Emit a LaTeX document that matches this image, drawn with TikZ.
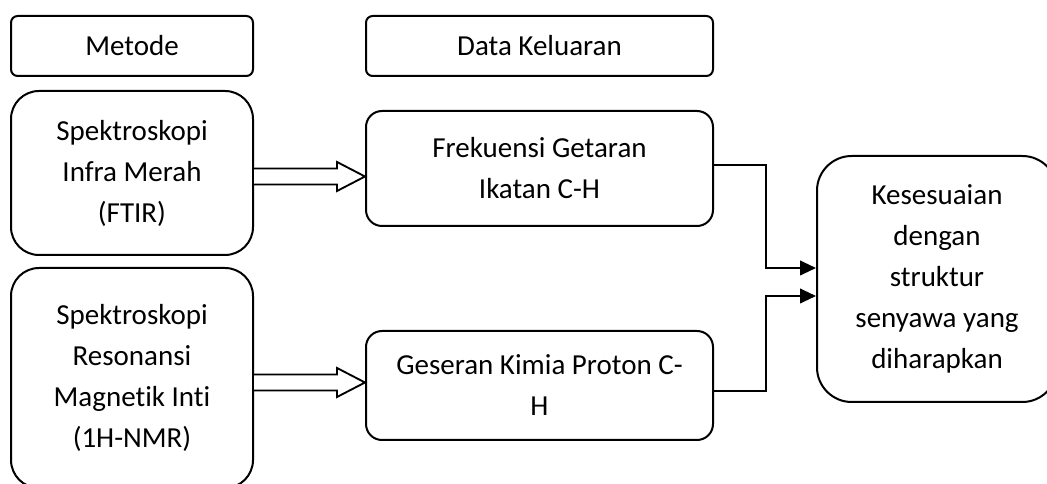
\documentclass[tikz,border=0pt]{standalone}
\usepackage{fontspec}
\setmainfont{Carlito}[Ligatures={NoCommon,NoContextual}]
\usetikzlibrary{calc,arrows.meta}
\newcommand\mkarrow[3]{%
  \draw[hollow] ($(#1.east |- #3)+(0,-8)$) -- ($(#2.west |- #3)+(-28,-8)$)
    -- ($(#2.west |- #3)+(-28,-14.5)$) -- (#2.west |- #3)
    -- ($(#2.west |- #3)+(-28,14.5)$) -- ($(#2.west |- #3)+(-28,8)$)
    -- ($(#1.east |- #3)+(0,8)$);}
\begin{document}
\begin{tikzpicture}[x=0.75pt,y=-0.75pt,
  box/.style={draw,line width=1.5pt,fill=white,inner sep=0pt,align=center,
    font=\fontsize{21.75}{30.75}\selectfont},
  hollow/.style={draw,line width=1.4pt,fill=white,line join=miter},
  conn/.style={draw,line width=1.5pt,-{Triangle[length=12pt,width=11pt]}}]
\useasboundingbox (0,0) rectangle (1047,484);
\clip (0,0) rectangle (1047,484);

\node[box,minimum width=181.5pt,minimum height=45pt,rounded corners=5pt] (metode) at (132,46) {Metode};
\node[box,minimum width=260.25pt,minimum height=45pt,rounded corners=5pt] (data) at (539.5,46) {Data Keluaran};
\node[box,minimum width=181.5pt,minimum height=123pt,rounded corners=21pt] (ftir) at (132,173) {Spektroskopi\\Infra Merah\\(FTIR)};
\node[box,minimum width=260.25pt,minimum height=86.25pt,rounded corners=12pt] (frek) at (539.5,168.5) {Frekuensi Getaran\\Ikatan C-H};
\node[box,minimum width=181.5pt,minimum height=165pt,rounded corners=21pt] (nmr) at (132,378) {Spektroskopi\\Resonansi\\Magnetik Inti\\(1H-NMR)};
\node[box,minimum width=260.25pt,minimum height=81.75pt,rounded corners=12pt] (geser) at (539.5,385.5) {Geseran Kimia Proton C-\\H};
\node[box,minimum width=180pt,minimum height=184.5pt,rounded corners=26pt] (kes) at (937,279) {Kesesuaian\\dengan\\struktur\\senyawa yang\\diharapkan};

\coordinate (a1) at (0,176.5);
\coordinate (a2) at (0,382.5);
\mkarrow{ftir}{frek}{a1}
\mkarrow{nmr}{geser}{a2}

\coordinate (c1) at (0,165);
\coordinate (k1) at (0,268);
\coordinate (c2) at (0,391);
\coordinate (k2) at (0,296);
\draw[conn] (frek.east |- c1) -- ++(52,0) |- (kes.west |- k1);
\draw[conn] (geser.east |- c2) -- ++(52,0) |- (kes.west |- k2);
\end{tikzpicture}
\end{document}
